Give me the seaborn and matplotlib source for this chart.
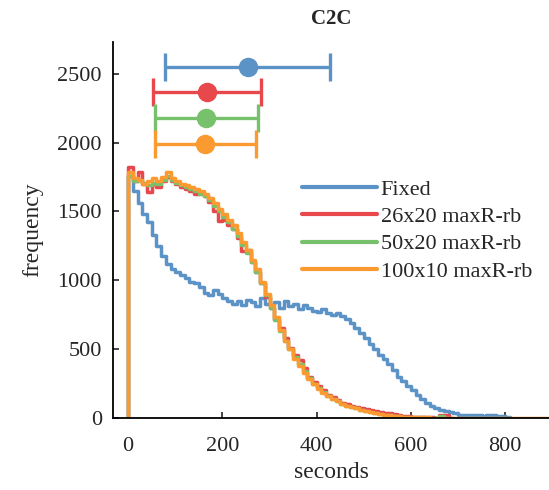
import numpy as np
import pandas as pd
import matplotlib
matplotlib.use('Agg')
import matplotlib.pyplot as plt
import seaborn as sns

# histogram counts, 10 s bins starting at 0
bin_width = 10

fixed_counts = [1760, 1650, 1560, 1480, 1420, 1330, 1250, 1180, 1120, 1080,
                1060, 1040, 1020, 990, 980, 950, 910, 890, 930, 900,
                870, 850, 830, 850, 820, 860, 840, 810, 870, 830,
                820, 840, 800, 850, 810, 830, 790, 820, 800, 780,
                770, 790, 760, 750, 760, 740, 720, 690, 650, 620,
                580, 540, 500, 460, 430, 390, 350, 300, 270, 230,
                200, 170, 140, 110, 90, 70, 60, 50, 40, 35,
                25, 20, 20, 18, 20, 15, 18, 20, 15, 15, 10]

red_counts = [1820, 1720, 1790, 1700, 1640, 1700, 1680, 1720, 1750, 1720,
              1700, 1680, 1660, 1650, 1630, 1640, 1610, 1570, 1500, 1430,
              1440, 1400, 1370, 1310, 1210, 1220, 1130, 1060, 980, 880,
              800, 720, 650, 580, 510, 460, 420, 360, 300, 260,
              230, 200, 170, 150, 130, 110, 100, 90, 80, 70,
              65, 60, 50, 40, 35, 35, 30, 20, 15, 12,
              10, 8, 6, 5, 4, 3, 20, 20, 0]

green_counts = [1760, 1720, 1730, 1710, 1690, 1710, 1700, 1730, 1760, 1730,
                1710, 1690, 1680, 1660, 1650, 1630, 1610, 1580, 1540, 1500,
                1460, 1420, 1370, 1320, 1260, 1200, 1130, 1060, 980, 890,
                800, 710, 630, 560, 500, 440, 390, 340, 290, 250,
                220, 190, 160, 140, 120, 105, 90, 80, 70, 60,
                50, 45, 38, 30, 25, 20, 16, 12, 10, 8,
                6, 5, 4, 3, 2, 2, 15, 0]

orange_counts = [1790, 1740, 1730, 1700, 1720, 1740, 1720, 1750, 1790, 1740,
                 1720, 1700, 1690, 1680, 1660, 1650, 1630, 1600, 1560, 1520,
                 1480, 1440, 1400, 1340, 1280, 1220, 1150, 1080, 990, 900,
                 820, 730, 640, 560, 500, 430, 380, 330, 280, 250,
                 210, 180, 160, 140, 120, 100, 90, 80, 70, 60,
                 50, 45, 35, 30, 25, 20, 15, 12, 10, 10,
                 8, 6, 5, 4, 3, 2, 0, 0, 0, 0,
                 0, 0, 0, 0, 0, 0, 0, 0, 0, 0,
                 0, 0, 0, 0, 0, 0, 0, 0, 0, 0]

labels = ['Fixed', '26x20 maxR-rb', '50x20 maxR-rb', '100x10 maxR-rb']
colors = ['#5b93c6', '#e8474c', '#78c16c', '#fb9a30']

# error bars: mean and range of each setup
eb_mean = [254, 168, 165, 163]
eb_low = [78, 53, 57, 57]
eb_high = [428, 282, 276, 271]
eb_y = [2550, 2365, 2180, 1990]

sns.set_style('ticks')
plt.rcParams['font.family'] = ['Liberation Serif', 'DejaVu Serif']

fig = plt.figure(figsize=(5.49, 4.9), dpi=100)
ax = fig.add_axes([0.206, 0.147, 0.794, 0.767])

handles = []
for counts, lab, col in zip([fixed_counts, red_counts, green_counts, orange_counts], labels, colors):
    n = len(counts)
    edges = [-0.01] + [i * bin_width for i in range(n + 1)] + [n * bin_width + 0.01]
    weights = [0] + list(counts) + [0]
    centers = [(a + b) / 2 for a, b in zip(edges[:-1], edges[1:])]
    df = pd.DataFrame({'t': centers, 'w': weights})
    sns.histplot(data=df, x='t', weights='w', bins=edges, element='step', fill=False,
                 color=col, linewidth=2.5, ax=ax)
    handles.append(ax.lines[-1])

for m, lo, hi, y, col in zip(eb_mean, eb_low, eb_high, eb_y, colors):
    ax.errorbar(m, y, xerr=[[m - lo], [hi - m]], fmt='o', color=col, ms=13,
                elinewidth=2.4, capsize=10, capthick=2.4)

ax.set_xlim(-32, 893)
ax.set_ylim(0, 2730)
ax.set_xticks([0, 200, 400, 600, 800])
ax.set_yticks([0, 500, 1000, 1500, 2000, 2500])
ax.tick_params(direction='in', length=4, width=1.2, labelsize=16, pad=8)
ax.tick_params(axis='x', pad=14)
for s in ['top', 'right']:
    ax.spines[s].set_visible(False)
for s in ['left', 'bottom']:
    ax.spines[s].set_linewidth(1.3)
    ax.spines[s].set_color('black')

ax.set_xlabel('seconds', fontsize=17, labelpad=4)
ax.set_ylabel('frequency', fontsize=17, labelpad=10)
ax.set_title('C2C', fontsize=15, fontweight='bold', pad=13)

leg = ax.legend(handles=handles, labels=labels, loc='upper left', bbox_to_anchor=(0.433, 0.635),
                frameon=False, fontsize=16, handlelength=3.4, handletextpad=0.15,
                labelspacing=0.3, borderaxespad=0, borderpad=0)
for line in leg.get_lines():
    line.set_linewidth(3)

fig.savefig('out.png', dpi=100)
